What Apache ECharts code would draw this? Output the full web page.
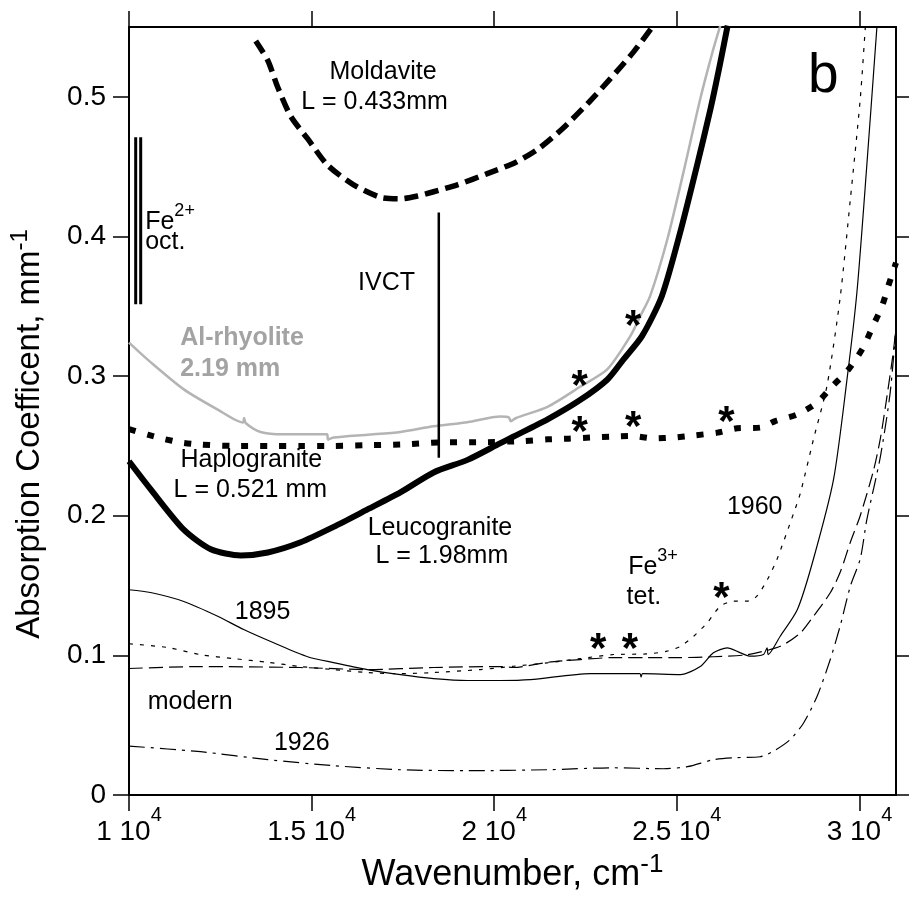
<!DOCTYPE html>
<html><head><meta charset="utf-8">
<script src="https://cdn.jsdelivr.net/npm/echarts@6/dist/echarts.min.js"></script>
<style>html,body{margin:0;padding:0;background:#fff}#c{width:909px;height:900px}</style>
</head><body><div id="c"></div>
<script>
const FONT = '"Liberation Sans", Arial, Helvetica, sans-serif';

// ---- axis ticks ----
const xTicks = [10000, 15000, 20000, 25000, 30000];
const xTickLabels = ['1', '1.5', '2', '2.5', '3'];
const yTicks = [0, 0.1, 0.2, 0.3, 0.4, 0.5];
const yTickLabels = ['0', '0.1', '0.2', '0.3', '0.4', '0.5'];

// ---- spectra [wavenumber cm-1, absorption coefficient mm-1] ----
const moldavite = [[13470,0.540],[13800,0.526],[14070,0.507],[14430,0.486],[14890,0.470],[15440,0.451],[16150,0.437],[16890,0.428],[17430,0.427],[17900,0.429],[18340,0.432],[18990,0.437],[19810,0.445],[20580,0.453],[21220,0.463],[21860,0.477],[22550,0.495],[23180,0.513],[23810,0.532],[24330,0.550]];
const haplogranite = [[10000,0.262],[10510,0.258],[10950,0.255],[11410,0.2525],[11960,0.251],[12860,0.250],[13800,0.250],[14700,0.250],[15600,0.250],[16530,0.2505],[17430,0.251],[18530,0.2525],[19620,0.2526],[20800,0.2535],[21460,0.2547],[22030,0.2552],[22630,0.256],[23180,0.2566],[23780,0.2571],[24360,0.2554],[24900,0.256],[25500,0.2576],[26110,0.2595],[26650,0.2626],[27280,0.2631],[27690,0.2678],[28300,0.2726],[28840,0.281],[29280,0.2934],[29690,0.3044],[30100,0.3204],[30350,0.3348],[30620,0.3503],[30790,0.3646],[31000,0.3812]];
const leucogranite = [[10000,0.239],[10590,0.219],[11500,0.190],[12240,0.176],[13060,0.1716],[13800,0.1737],[14700,0.181],[15600,0.192],[16530,0.2045],[17430,0.2167],[18340,0.231],[19270,0.240],[20170,0.252],[20530,0.2567],[21460,0.269],[22360,0.283],[23100,0.2976],[23540,0.312],[24050,0.3288],[24590,0.3574],[25090,0.4028],[25550,0.4506],[25920,0.4912],[26170,0.522],[26390,0.551]];
const alRhyolite = [[10000,0.324],[10590,0.310],[11500,0.2905],[12430,0.276],[13120,0.2668],[13150,0.2700],[13200,0.2662],[13600,0.260],[14230,0.2583],[15420,0.2583],[15450,0.2545],[15600,0.256],[16530,0.258],[17430,0.260],[18340,0.264],[19270,0.267],[20170,0.271],[20400,0.2705],[20450,0.2677],[20600,0.2700],[21460,0.278],[22360,0.2925],[23100,0.305],[23730,0.3288],[24000,0.343],[24270,0.3574],[24740,0.398],[25180,0.4459],[25640,0.4984],[26000,0.5343],[26190,0.551]];
const g1895 = [[10000,0.147],[10590,0.145],[11500,0.1386],[12430,0.128],[13140,0.1185],[13960,0.109],[14890,0.099],[15600,0.0948],[16530,0.0898],[17430,0.0862],[18340,0.0834],[19270,0.082],[20170,0.082],[20990,0.0826],[22630,0.0869],[23990,0.0869],[24020,0.0845],[24060,0.0869],[25100,0.0862],[25640,0.092],[26000,0.1018],[26380,0.1054],[26740,0.1018],[27010,0.0994],[27370,0.1006],[27470,0.1054],[27500,0.1006],[27830,0.1137],[28300,0.1328],[28740,0.169],[29290,0.226],[29660,0.298],[29930,0.360],[30200,0.4506],[30480,0.551]];
const g1960 = [[10000,0.1083],[11070,0.1056],[11960,0.1005],[12860,0.0977],[13800,0.095],[14700,0.092],[15600,0.0898],[16530,0.0877],[17430,0.0869],[18340,0.0877],[19620,0.0898],[20530,0.0922],[21450,0.0946],[22360,0.0977],[23270,0.1006],[24180,0.101],[24730,0.103],[25100,0.1065],[25460,0.1137],[25830,0.1233],[26190,0.1352],[26550,0.1388],[26920,0.1388],[27190,0.1424],[27480,0.1543],[27740,0.1687],[28200,0.202],[28380,0.216],[28740,0.2547],[29110,0.293],[29470,0.356],[29750,0.4266],[30020,0.498],[30160,0.550]];
const gModern = [[10000,0.0906],[11960,0.092],[14700,0.0913],[16530,0.0898],[18340,0.0913],[20170,0.092],[20530,0.0913],[21460,0.095],[22360,0.097],[23260,0.0984],[24190,0.0984],[25100,0.0984],[26000,0.099],[26930,0.1005],[27830,0.1065],[28380,0.116],[28740,0.128],[29200,0.1448],[29480,0.160],[29750,0.181],[30020,0.200],[30380,0.232],[30570,0.255],[30750,0.285],[30930,0.318],[31000,0.335]];
const g1926 = [[10000,0.035],[11960,0.031],[13800,0.0253],[15600,0.021],[17430,0.0181],[19270,0.0174],[21460,0.0181],[23260,0.0195],[24630,0.0188],[25290,0.0203],[26000,0.0253],[26550,0.0267],[27280,0.0274],[27640,0.0313],[28100,0.0396],[28470,0.0516],[28840,0.0707],[29200,0.097],[29470,0.1209],[29750,0.1495],[30020,0.169],[30200,0.197],[30570,0.242],[30840,0.288],[31000,0.335]];

// ---- band marker lines [x, yTop, yBottom] ----
const fe2Bars = [[10183,0.471,0.3515],[10320,0.471,0.3515]];
const ivctBar = [18482,0.4172,0.2416];

// ---- text annotations [text, x, y, anchor, styleKey] ----
const notes = [
  ['Moldavite', 16969, 0.5176, 'center', 'n'],
  ['L = 0.433mm', 16736, 0.4961, 'center', 'n'],
  ['IVCT', 17064, 0.3663, 'center', 'n'],
  ['{m|Fe}{s|2+}', 10457, 0.4100, 'left', 'n'],
  ['oct.', 10457, 0.3957, 'left', 'n'],
  ['Al-rhyolite', 11415, 0.3269, 'left', 'g'],
  ['2.19 mm', 11415, 0.3047, 'left', 'g'],
  ['Haplogranite', 13363, 0.2397, 'center', 'n'],
  ['L = 0.521 mm', 13335, 0.2181, 'center', 'n'],
  ['Leucogranite', 18528, 0.1907, 'center', 'n'],
  ['L = 1.98mm', 18580, 0.1704, 'center', 'n'],
  ['1960', 27145, 0.2060, 'center', 'n'],
  ['{m|Fe}{s|3+}', 23681, 0.1632, 'left', 'n'],
  ['tet.', 23636, 0.1414, 'left', 'n'],
  ['1895', 13672, 0.1305, 'center', 'n'],
  ['modern', 11688, 0.0660, 'center', 'n'],
  ['1926', 14744, 0.0366, 'center', 'n'],
  ['b', 29021, 0.5142, 'center', 'big']
];
const asterisks = [[23817,0.3419],[22353,0.2989],[22353,0.2654],[23817,0.2690],[26372,0.2726],[22859,0.1101],[23727,0.1101],[26235,0.1466]];

// ---- styles ----
const noteStyles = {
  n: {fontSize: 25, color: '#000000', fontWeight: 'normal'},
  g: {fontSize: 25, color: '#a3a3a3', fontWeight: 'bold'},
  big: {fontSize: 55, color: '#000000', fontWeight: 'normal'}
};

const chart = echarts.init(document.getElementById('c'), null, {renderer: 'canvas'});

function lineSeries(name, data, color, width, dash, z) {
  return {
    name, type: 'line', data, symbol: 'none', smooth: 0.25, silent: true, z: z || 2,
    lineStyle: {color, width, type: dash || 'solid', cap: 'butt', join: 'round'}
  };
}
function barSeries(x, yTop, yBot, width) {
  return {type: 'line', data: [[x, yTop], [x, yBot]], symbol: 'none', silent: true, z: 3,
    lineStyle: {color: '#000', width, cap: 'butt'}};
}

const axisLineStyle = {show: true, onZero: false, lineStyle: {color: '#000', width: 2}};
const tickStyle = (vals) => ({show: true, inside: false, length: 16, customValues: vals, lineStyle: {color: '#000', width: 1.5}});

const plainText = {textBorderWidth: 0, textBorderColor: 'transparent', textShadowBlur: 0, opacity: 1};

const noteData = notes.map(([text, x, y, align, key]) => {
  const st = noteStyles[key];
  return {
    value: [x, y],
    label: Object.assign({
      show: true, position: [0, 0], formatter: text, align, verticalAlign: 'middle',
      fontFamily: FONT, fontSize: st.fontSize, color: st.color, fontWeight: st.fontWeight,
      rich: {
        m: Object.assign({fontFamily: FONT, fontSize: 25, color: '#000000', lineHeight: 40}, plainText),
        s: Object.assign({fontFamily: FONT, fontSize: 18, color: '#000000', lineHeight: 18, verticalAlign: 'top'}, plainText)
      }
    }, plainText)
  };
});
const starData = asterisks.map(([x, y]) => ({
  value: [x, y],
  label: Object.assign({show: true, position: [0, 0], formatter: '*', align: 'center', verticalAlign: 'middle',
    offset: [0, 10], fontFamily: FONT, fontSize: 42, fontWeight: 'bold', color: '#000000'}, plainText)
}));

const option = {
  animation: false,
  backgroundColor: '#fff',
  grid: {left: 128, right: 13, top: 27, bottom: 105, containLabel: false},
  xAxis: [
    {
      type: 'value', min: 10000, max: 31000, position: 'bottom',
      axisLine: axisLineStyle, axisTick: tickStyle(xTicks), splitLine: {show: false},
      axisLabel: {
        customValues: xTicks, margin: 10, color: '#000',
        formatter: v => '{m|' + xTickLabels[xTicks.indexOf(v)] + ' 10}{s|4}',
        rich: {
          m: {fontFamily: FONT, fontSize: 28, color: '#000', lineHeight: 54},
          s: {fontFamily: FONT, fontSize: 20, color: '#000', lineHeight: 20, verticalAlign: 'top'}
        }
      },
      name: '{m|Wavenumber, cm}{s|-1}', nameLocation: 'middle', nameGap: 57,
      nameTextStyle: {
        rich: {
          m: {fontFamily: FONT, fontSize: 36, color: '#000', lineHeight: 46},
          s: {fontFamily: FONT, fontSize: 26, color: '#000', lineHeight: 26, verticalAlign: 'top'}
        }
      }
    },
    {
      type: 'value', min: 10000, max: 31000, position: 'top',
      axisLine: axisLineStyle, axisTick: tickStyle(xTicks), splitLine: {show: false},
      axisLabel: {show: false}
    }
  ],
  yAxis: [
    {
      type: 'value', min: 0, max: 0.55, position: 'left',
      axisLine: axisLineStyle, axisTick: tickStyle(yTicks), splitLine: {show: false},
      axisLabel: {
        customValues: yTicks, margin: 23, color: '#000', fontFamily: FONT, fontSize: 28,
        formatter: v => yTickLabels[yTicks.indexOf(v)]
      },
      name: '{m|Absorption Coefficent, mm}{s|-1}', nameLocation: 'middle', nameRotate: 90, nameGap: 77,
      nameTextStyle: {
        padding: [0, 46, 0, 0],
        rich: {
          m: {fontFamily: FONT, fontSize: 33, color: '#000', lineHeight: 44},
          s: {fontFamily: FONT, fontSize: 24, color: '#000', lineHeight: 24, verticalAlign: 'top'}
        }
      }
    },
    {
      type: 'value', min: 0, max: 0.55, position: 'right',
      axisLine: axisLineStyle, axisTick: tickStyle(yTicks), splitLine: {show: false},
      axisLabel: {show: false}
    }
  ],
  series: [
    lineSeries('1926', g1926, '#000', 1.2, [16, 6, 3, 6]),
    lineSeries('modern', gModern, '#000', 1.2, [14, 6]),
    lineSeries('1960', g1960, '#000', 1.2, [4, 7]),
    lineSeries('1895', g1895, '#000', 1.2, 'solid'),
    lineSeries('Al-rhyolite', alRhyolite, '#b4b4b4', 2.5, 'solid'),
    lineSeries('Haplogranite', haplogranite, '#000', 6, [7, 12], 4),
    lineSeries('Leucogranite', leucogranite, '#000', 6, 'solid', 4),
    lineSeries('Moldavite', moldavite, '#000', 5.5, [14, 7], 4),
    barSeries(fe2Bars[0][0], fe2Bars[0][1], fe2Bars[0][2], 3),
    barSeries(fe2Bars[1][0], fe2Bars[1][1], fe2Bars[1][2], 3),
    barSeries(ivctBar[0], ivctBar[1], ivctBar[2], 2.5),
    {type: 'scatter', data: noteData, symbolSize: 1, silent: true, z: 10,
      itemStyle: {color: '#ffffff', opacity: 0}},
    {type: 'scatter', data: starData, symbolSize: 1, silent: true, z: 10,
      itemStyle: {color: '#ffffff', opacity: 0}}
  ]
};
chart.setOption(option);
</script></body></html>
